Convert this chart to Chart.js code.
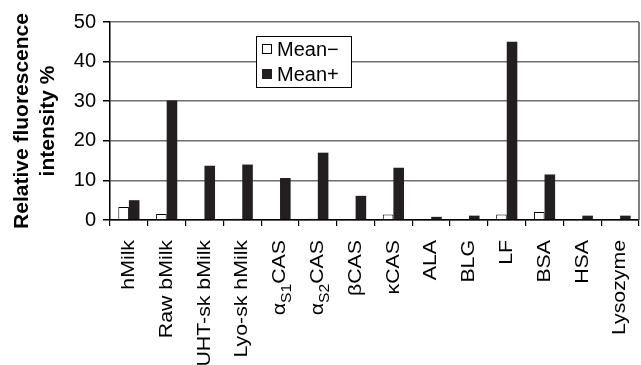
<!DOCTYPE html>
<html>
<head>
<meta charset="utf-8">
<script src="https://cdn.jsdelivr.net/npm/chart.js@4"></script>
<style>
  html, body { margin: 0; padding: 0; background: #fff; }
  #wrap { width: 641px; height: 365px; position: relative; }
</style>
</head>
<body>
<div id="wrap"><canvas id="chart"></canvas></div>
<script>
// categories ({...} marks a subscript)
const categories = ["hMilk", "Raw bMilk", "UHT-sk bMilk", "Lyo-sk hMilk", "α{S1}CAS", "α{S2}CAS",
  "βCAS", "κCAS", "ALA", "BLG", "LF", "BSA", "HSA", "Lysozyme"];
const meanMinus = [3.3, 1.5, 0.2, 0.3, 0, 0.3, 0, 1.4, 0.15, 0.2, 1.4, 2.0, 0, 0];
const meanPlus = [5.0, 30.2, 13.7, 14.0, 10.6, 17.0, 6.1, 13.2, 0.8, 1.1, 45.0, 11.5, 1.1, 1.1];
const yTicks = [0, 10, 20, 30, 40, 50];
const seriesNames = ["Mean\u2212", "Mean+"];

const FONT = "'Liberation Sans', Arial, Helvetica, sans-serif";
Chart.defaults.font.family = FONT;
Chart.defaults.color = "#000";

// split "α{S1}CAS" into parts
function parseLabel(str) {
  const parts = [];
  const re = /\{([^}]*)\}|([^{]+)/g;
  let m;
  while ((m = re.exec(str)) !== null) {
    if (m[1] !== undefined) parts.push({ t: m[1], sub: true });
    else parts.push({ t: m[2], sub: false });
  }
  return parts;
}

const extras = {
  id: "extras",
  afterDraw(chart) {
    const ctx = chart.ctx;
    const area = chart.chartArea;
    const xs = chart.scales.x;

    // right frame line
    ctx.save();
    ctx.strokeStyle = "#555";
    ctx.lineWidth = 1.5;
    ctx.beginPath();
    ctx.moveTo(area.right, area.top);
    ctx.lineTo(area.right, area.bottom);
    ctx.stroke();
    ctx.restore();

    // rotated category labels (slightly stretched along their length like the original)
    const mainFont = "19px " + FONT;
    const subFont = "14px " + FONT;
    categories.forEach((lab, i) => {
      const parts = parseLabel(lab);
      const x = xs.getPixelForValue(i);
      const top = area.bottom + 20;
      ctx.save();
      ctx.translate(x, top);
      ctx.rotate(-Math.PI / 2);
      ctx.scale(1.12, 1);
      ctx.textBaseline = "middle";
      ctx.textAlign = "left";
      ctx.fillStyle = "#000";
      let total = 0;
      parts.forEach(p => {
        ctx.font = p.sub ? subFont : mainFont;
        p.w = ctx.measureText(p.t).width;
        total += p.w;
      });
      let pos = -total;
      parts.forEach(p => {
        ctx.font = p.sub ? subFont : mainFont;
        ctx.fillText(p.t, pos, p.sub ? 7 : 0);
        pos += p.w;
      });
      ctx.restore();
    });

    // legend box
    const lx = 256, ly = 36, lw = 95, lh = 51;
    ctx.save();
    ctx.fillStyle = "#fff";
    ctx.fillRect(lx, ly, lw, lh);
    ctx.strokeStyle = "#000";
    ctx.lineWidth = 1;
    ctx.strokeRect(lx + 0.5, ly + 0.5, lw, lh);
    ctx.font = "20px " + FONT;
    ctx.textBaseline = "middle";
    chart.data.datasets.forEach((ds, k) => {
      const cy = ly + 13 + k * 25;
      ctx.fillStyle = ds.backgroundColor;
      ctx.fillRect(lx + 6, cy - 5, 10, 10);
      if (ds.borderWidth) {
        ctx.strokeStyle = "#000";
        ctx.strokeRect(lx + 6.5, cy - 4.5, 9, 9);
      }
      ctx.fillStyle = "#000";
      ctx.fillText(ds.label, lx + 21, cy + 1);
    });
    ctx.restore();
  }
};

new Chart(document.getElementById("chart"), {
  type: "bar",
  data: {
    labels: categories,
    datasets: [
      {
        label: seriesNames[0],
        data: meanMinus,
        backgroundColor: "#ffffff",
        borderColor: "#000000",
        borderWidth: 1,
        categoryPercentage: 0.56,
        barPercentage: 1.0
      },
      {
        label: seriesNames[1],
        data: meanPlus,
        backgroundColor: "#231f20",
        borderWidth: 0,
        categoryPercentage: 0.56,
        barPercentage: 1.0
      }
    ]
  },
  options: {
    responsive: true,
    maintainAspectRatio: false,
    animation: false,
    layout: { padding: { top: 22, right: 2, left: 0, bottom: 0 } },
    plugins: {
      legend: { display: false },
      tooltip: { enabled: false }
    },
    scales: {
      x: {
        afterFit: s => { s.height = 145; },
        grid: {
          offset: true,
          drawOnChartArea: false,
          drawTicks: true,
          tickLength: 6,
          color: "#000",
          lineWidth: 1.2
        },
        border: { color: "#000", width: 1.5 },
        ticks: { display: false }
      },
      y: {
        min: 0,
        max: 50,
        afterFit: s => { s.width = 110; },
        afterBuildTicks: s => { s.ticks = yTicks.map(v => ({ value: v })); },
        grid: {
          color: "#6e6e6e",
          lineWidth: 1.5,
          tickLength: 7,
          tickColor: "#000"
        },
        border: { color: "#000", width: 1.5 },
        ticks: {
          font: { size: 20 },
          padding: 7,
          color: "#000"
        },
        title: {
          display: true,
          text: ["Relative fluorescence", "intensity %"],
          font: { size: 21, weight: "bold", lineHeight: 1.25 },
          color: "#000",
          padding: { top: 9, bottom: 0 }
        }
      }
    }
  },
  plugins: [extras]
});
</script>
</body>
</html>
